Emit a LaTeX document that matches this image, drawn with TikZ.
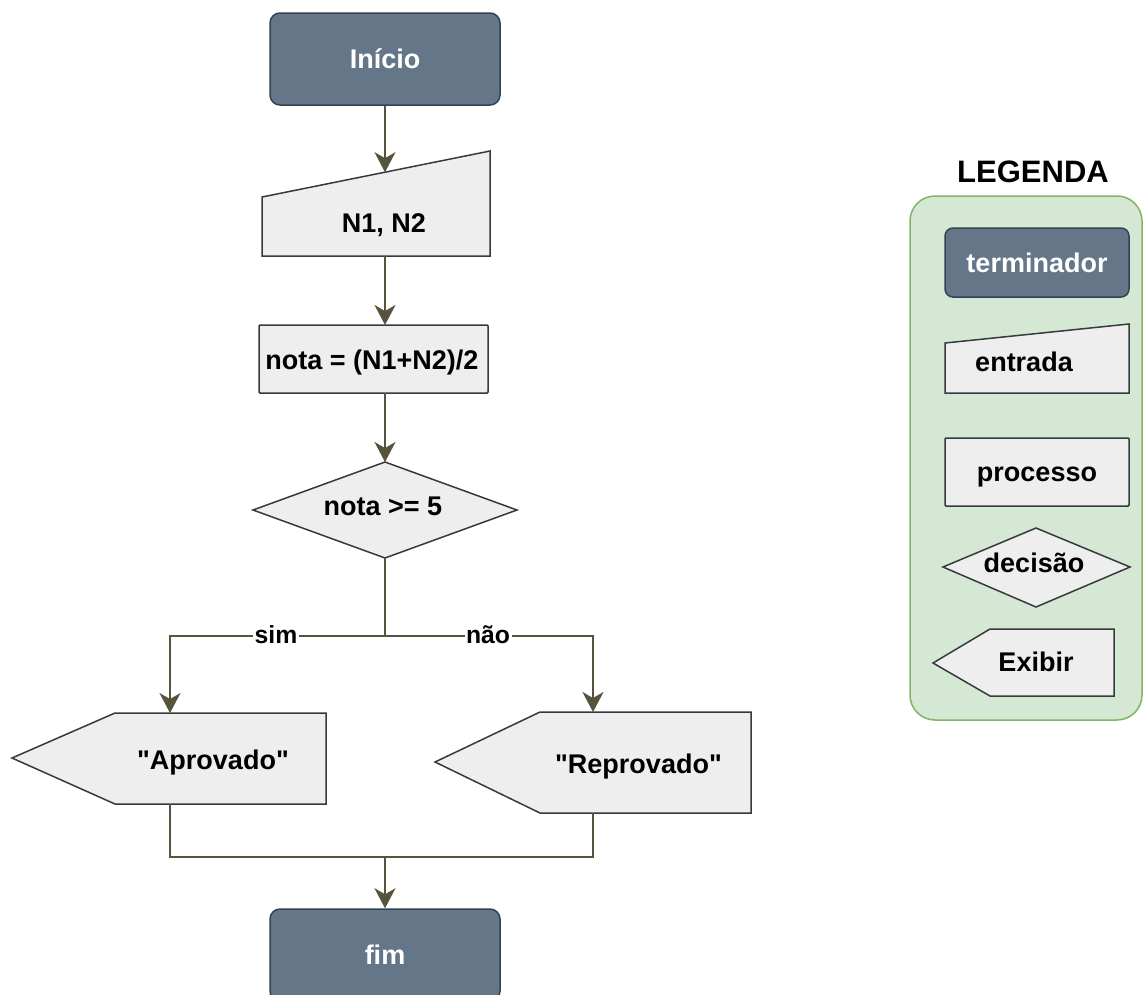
\documentclass[tikz,border=0pt]{standalone}
\usepackage{fontspec}
\setmainfont{Liberation Sans}[Ligatures=TeXOff]
\usetikzlibrary{arrows.meta}
\definecolor{termfill}{HTML}{647687}
\definecolor{termdraw}{HTML}{314354}
\definecolor{boxfill}{HTML}{EEEEEE}
\definecolor{boxdraw}{HTML}{36393D}
\definecolor{legfill}{HTML}{D5E8D4}
\definecolor{legdraw}{HTML}{82B366}
\definecolor{conn}{HTML}{57533C}
\begin{document}
\begin{tikzpicture}[x=1pt,y=-1pt,
  txt/.style={font=\fontsize{27}{32}\selectfont\bfseries, text height=19.3pt, text depth=0pt, inner sep=0pt},
  term/.style={txt, draw=termdraw, fill=termfill, text=white, rounded corners=10pt, line width=1.5pt, minimum width=230pt, minimum height=92pt},
  proc/.style={txt, draw=boxdraw, fill=boxfill, line width=1.5pt, rounded corners=1pt},
  shp/.style={draw=boxdraw, fill=boxfill, line width=1.5pt, line join=miter},
  flow/.style={draw=conn, line width=2pt, -{Stealth[length=20pt,width=21pt,inset=6pt]}},
  conline/.style={draw=conn, line width=2pt},
  lbl/.style={font=\fontsize{24.75}{30}\selectfont\bfseries, text height=17.7pt, text depth=0pt, fill=white, inner sep=1.5pt}
]
\useasboundingbox (0,0) rectangle (1143,994);

% ---------- legend ----------
\node[font=\fontsize{31}{36}\selectfont\bfseries, text height=22.2pt, text depth=0pt, inner sep=0pt] (legtitle) at (1033,171.5) {LEGENDA};
\draw[draw=legdraw, fill=legfill, line width=1.5pt, rounded corners=25pt] (910,196) rectangle (1142,720);
\node[term, minimum width=184pt, minimum height=69pt, rounded corners=8pt] (lterm) at (1037,262.5) {terminador};
\draw[shp] (945,343) -- (1129,324) -- (1129,393) -- (945,393) -- cycle;
\node[txt] (lent) at (1024,362) {entrada};
\node[proc, minimum width=184pt, minimum height=68pt] (lproc) at (1037,472) {processo};
\draw[shp] (943,567) -- (1036,528) -- (1130,567) -- (1036,607) -- cycle;
\node[txt] (ldec) at (1034,562.5) {decisão};
\draw[shp] (933,663) -- (990,629) -- (1114,629) -- (1114,696) -- (990,696) -- cycle;
\node[txt] (lexi) at (1036,661.5) {Exibir};

% ---------- flowchart shapes ----------
\node[term] (ini) at (385,59) {Início};

\draw[shp] (262,197) -- (490,151) -- (490,256) -- (262,256) -- cycle;
\coordinate (inT) at (385,172.2);
\coordinate (inB) at (385,256);
\node[txt] (inp) at (384,223) {N1, N2};

\node[proc, minimum width=229pt, minimum height=68pt] (proc) at (373.5,359) {};
\node[txt] (proctxt) at (372,360) {nota = (N1+N2)/2};
\coordinate (procT) at (385,325);
\coordinate (procB) at (385,393);

\draw[shp] (253,510) -- (385,462) -- (517,510) -- (385,558) -- cycle;
\coordinate (decT) at (385,462);
\coordinate (decB) at (385,558);
\node[txt] (dec) at (383,506) {nota >= 5};

\draw[shp] (12,758) -- (115,713) -- (326,713) -- (326,804) -- (115,804) -- cycle;
\coordinate (aprT) at (170,713);
\coordinate (aprB) at (170,804);
\node[txt] (apr) at (213,760) {"Aprovado"};

\draw[shp] (435,762) -- (540,712) -- (751,712) -- (751,813) -- (540,813) -- cycle;
\coordinate (repT) at (593,712);
\coordinate (repB) at (593,813);
\node[txt] (rep) at (638.5,764) {"Reprovado"};

\node[term] (fim) at (385,955) {fim};

% ---------- connectors ----------
\coordinate (split) at (385,636);
\coordinate (merge) at (385,857);
\draw[flow] (ini.south) -- (inT);
\draw[flow] (inB) -- (procT);
\draw[flow] (procB) -- (decT);
\draw[conline] (decB) -- (split);
\draw[flow] (split) -| (aprT);
\draw[flow] (split) -| (repT);
\draw[conline] (aprB) |- (merge);
\draw[conline] (repB) |- (merge);
\draw[flow] (merge) -- (fim.north);

\node[lbl] (sim) at (276,635) {sim};
\node[lbl] (nao) at (488,635) {não};
\end{tikzpicture}
\end{document}
